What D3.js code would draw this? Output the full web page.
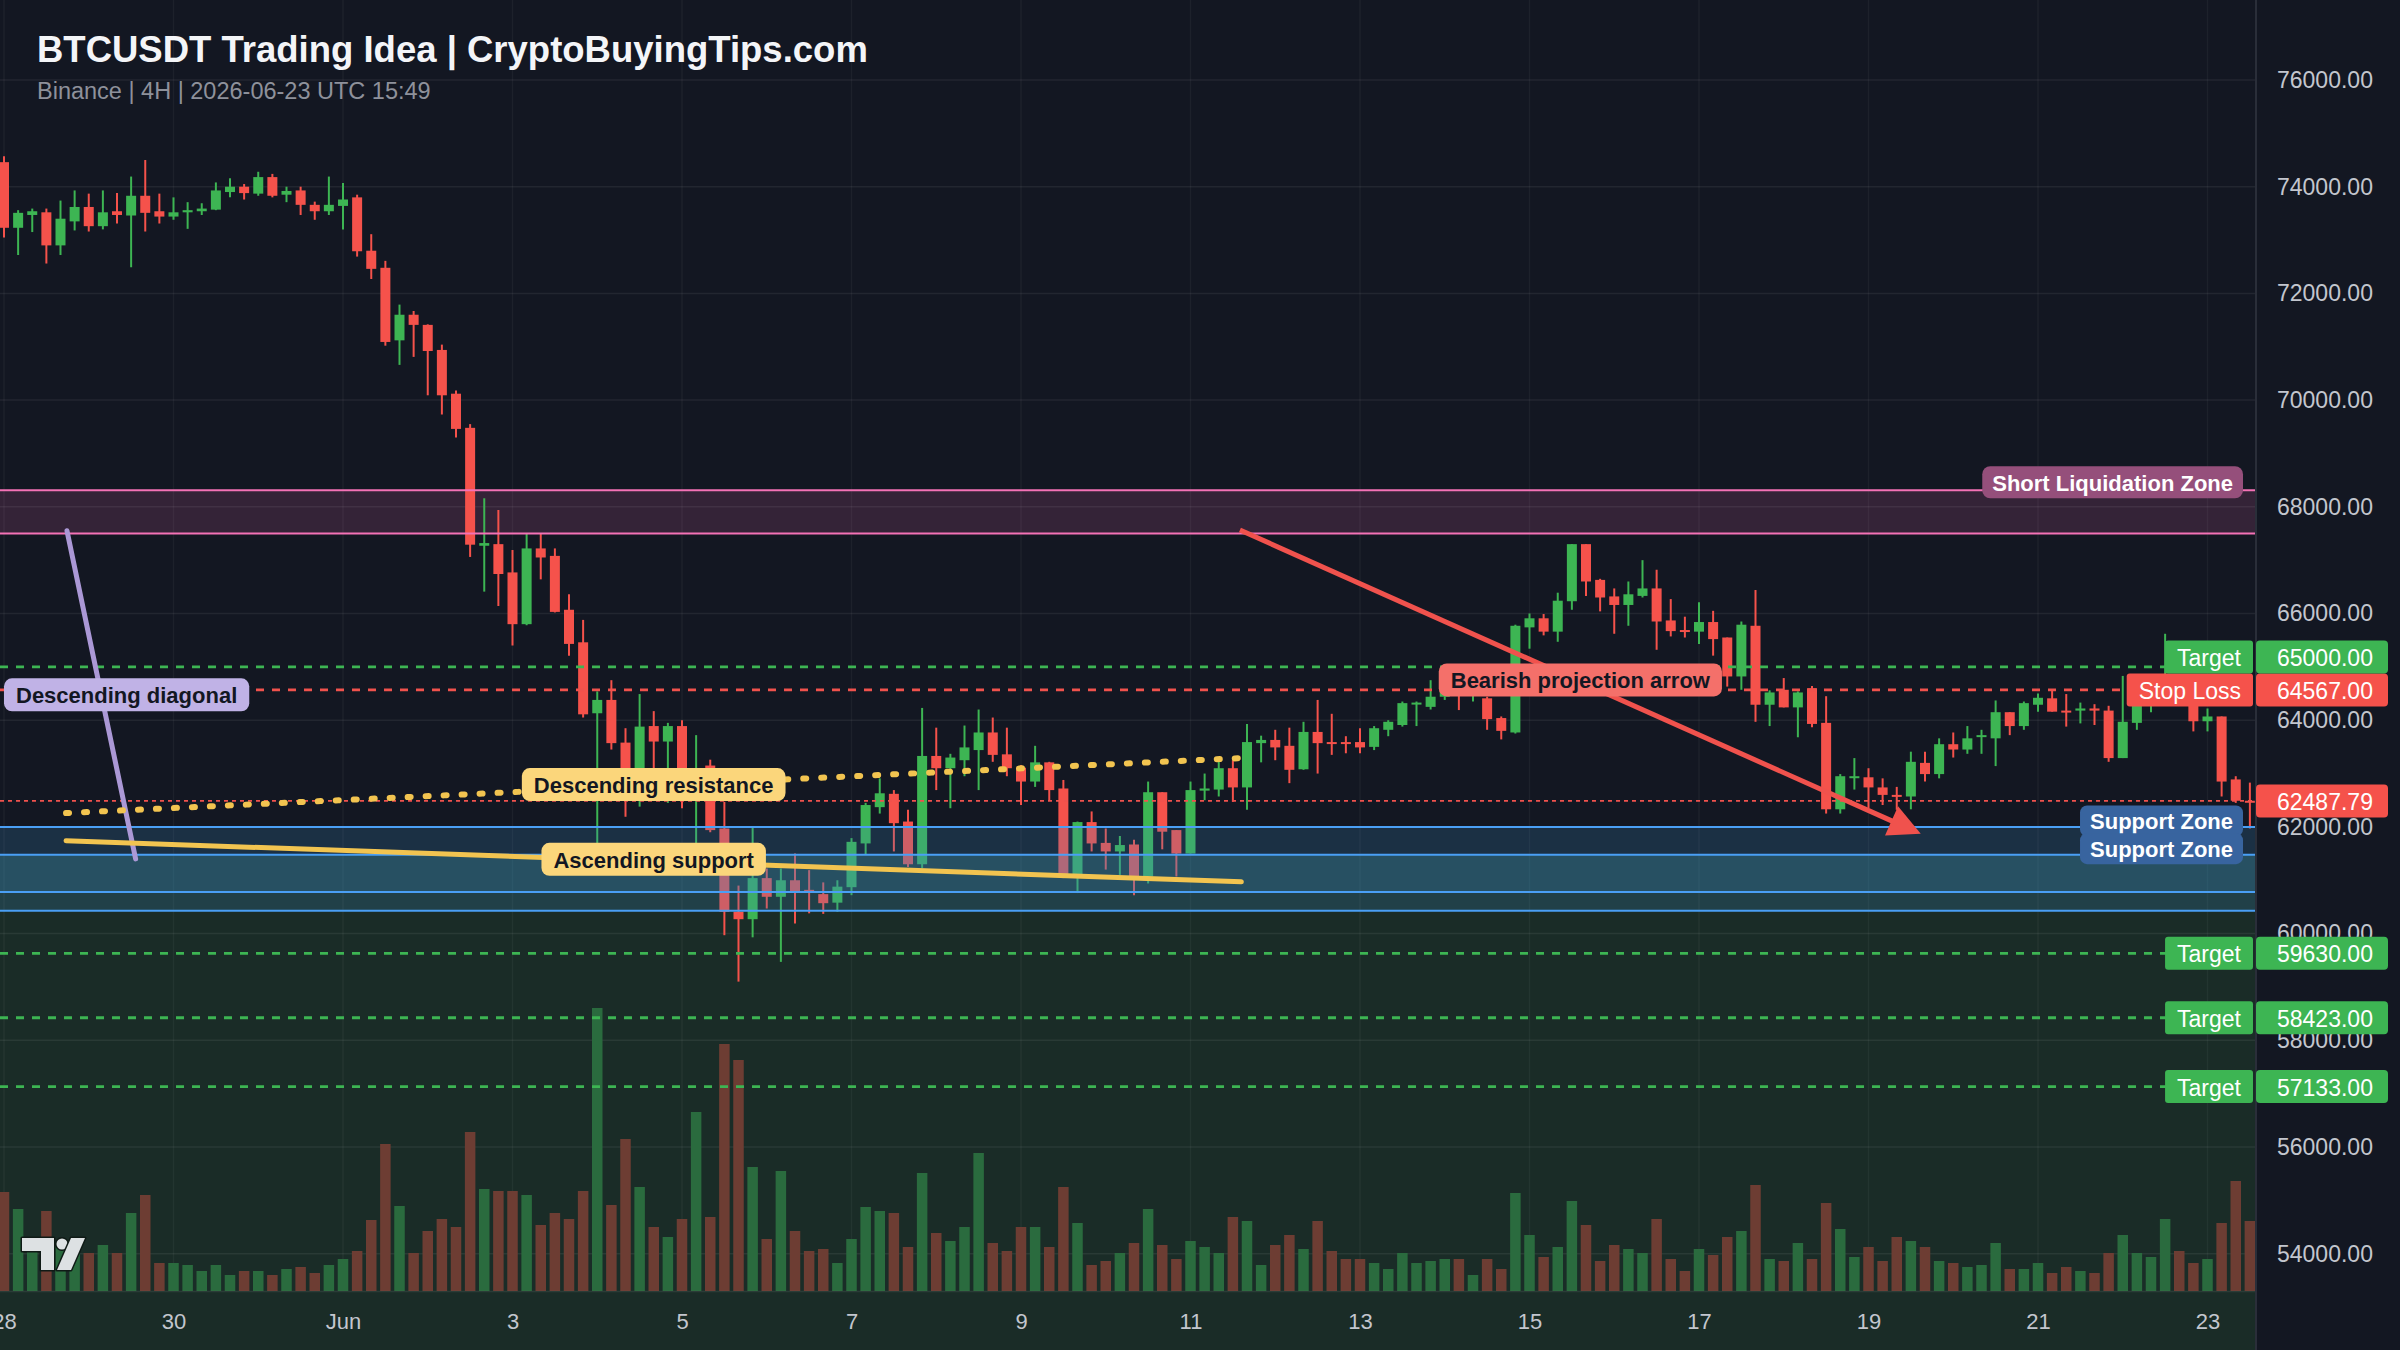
<!DOCTYPE html>
<html><head><meta charset="utf-8">
<script src="https://cdn.jsdelivr.net/npm/d3@7"></script>
<style>
body{margin:0;background:#131722;}
svg{display:block;font-family:"Liberation Sans",Arial,Helvetica,sans-serif;}
</style></head>
<body><svg id="chart" width="2400" height="1350"></svg>
<script>
// ---------------- DATA ----------------
const candleStart = "2026-05-28T00:00:00Z";
const candleHours = 4;
const open = [74460,73230,73470,73520,72900,73350,73620,73260,73540,73460,73830,73540,73440,73520,73540,73570,73900,74000,73870,74180,
73850,73930,73660,73540,73640,73800,72800,72480,71120,71600,71410,70940,70120,69480,67270,67300,66770,65800,67220,67080,
66070,65460,64130,64380,63580,62600,63890,63600,63890,62950,63150,61970,60410,60270,61040,60690,61000,60820,60740,60580,
60870,61690,62370,62620,62100,61300,63330,63100,63250,63440,63770,63360,63110,62850,63210,62720,61070,62090,61700,61540,
61670,61070,62650,61940,61500,62680,62700,63100,62740,63570,63630,63520,63080,63780,63590,63590,63590,63500,63820,63910,
64300,64250,64440,64600,64480,64410,64040,63770,65740,65910,65660,66230,67300,66630,66320,66160,66330,66470,65870,65690,
65660,65840,65550,64820,65770,64290,64570,64240,64600,63950,62330,62920,62930,62740,62600,62570,63200,62990,63550,63450,
63690,63660,64150,63890,64290,64410,64180,64180,64220,64180,63290,63950,64300,64420,64650,64500,63980,64070,62890,62490];
const high = [74570,73560,73590,73590,73740,73930,73870,73930,73880,74190,74500,73870,73800,73710,73690,74080,74160,74050,74280,74240,
74000,74000,73720,74190,74070,73850,73110,72610,71790,71670,71420,71040,70180,69550,68160,67940,67190,67490,67490,67220,
66360,65880,64540,64750,63850,64490,64170,63950,64000,63720,63260,62470,60900,62000,61220,61220,61500,61190,60960,61000,
61790,62450,62910,62690,62320,64230,63860,63370,63900,64200,64050,63860,63160,63520,63220,62880,62100,62290,61970,61830,
61760,62850,62650,61940,62850,63000,63290,63250,63930,63710,63820,63860,63970,64380,64120,63700,63850,63890,64000,64350,
64350,64750,64750,64700,64650,64440,64070,65790,66000,65990,66390,67300,67300,66650,66470,66600,67000,66820,66270,65940,
66210,66050,65550,65850,66440,64560,64790,64540,64640,64450,62990,63290,63100,62910,62750,63410,63410,63660,63770,63890,
63820,64370,64150,64350,64500,64570,64490,64330,64300,64270,64830,64500,64650,65620,64800,64700,64220,64070,62950,62830];
const low = [73050,72720,73150,72560,72720,73180,73160,73200,73310,72490,73160,73310,73380,73210,73470,73560,73800,73760,73830,73800,
73710,73470,73380,73470,73200,72690,72270,71020,70660,70810,70090,69730,69300,67060,66410,66140,65400,65780,66640,66020,
65210,64050,61660,63450,62190,62380,62500,62450,62350,61670,61900,59970,59100,59930,60470,59470,60190,60380,60370,60410,
60720,61490,62250,61540,61250,61230,62690,62350,62950,62690,63220,62950,62410,62750,62500,61040,60760,61540,61200,61100,
60720,60940,61580,61070,61500,62500,62570,62470,62320,63210,63250,62820,63070,63000,63350,63380,63380,63440,63700,63880,
63890,64200,64380,64190,64350,63820,63640,63750,65340,65590,65470,66070,66330,66040,65620,65770,66300,65320,65570,65550,
65430,65210,64630,64570,63970,63890,64240,63680,63870,62250,62250,62700,62350,62410,62320,62330,62850,62910,63300,63370,
63370,63140,63720,63820,64160,64160,63880,63940,63910,63220,63290,63820,64150,64300,64350,63790,63790,62570,62450,61970];
const close = [73230,73510,73540,72900,73400,73620,73260,73520,73470,73830,73510,73440,73520,73560,73590,73930,74000,73880,74180,73830,
73920,73660,73540,73660,73760,72790,72460,71090,71600,71410,70920,70090,69460,67290,67320,66740,65800,67220,67050,66030,
65430,64110,64380,63570,62700,63880,63600,63890,62700,63060,61940,60410,60270,61040,60690,61000,60790,60780,60570,60880,
61720,62410,62630,62070,61300,63330,63100,63300,63490,63770,63350,63100,62850,63210,62690,61070,62090,61690,61540,61660,
61070,62650,61910,61500,62690,62720,63100,62740,63590,63630,63490,63070,63780,63570,63560,63560,63490,63850,63970,64320,
64330,64440,64600,64480,64550,64020,63800,65770,65910,65660,66240,67300,66600,66300,66160,66360,66470,65850,65670,65660,
65840,65520,64820,65790,64290,64520,64240,64520,63930,62330,62950,62950,62740,62600,62570,63220,62990,63550,63450,63660,
63720,64150,63890,64320,64420,64160,64150,64220,64180,63290,63970,64300,64420,64650,64500,63980,64070,62850,62490,62487.79];
const volume = [990,820,400,800,450,420,380,460,380,780,960,280,280,260,200,260,160,200,200,160,
220,240,180,260,320,400,710,1470,850,380,600,720,640,1590,1020,1000,1000,960,660,780,
720,1000,2830,860,1520,1040,640,540,720,1790,740,2470,2310,1240,520,1200,600,400,420,280,
520,840,800,780,440,1180,580,500,640,1380,480,400,640,640,440,1040,680,260,300,380,
480,820,460,320,500,440,380,740,700,260,460,560,420,700,400,320,320,280,220,380,
280,300,320,320,160,320,220,980,560,340,440,900,660,300,460,420,380,720,320,200,
420,360,540,600,1060,320,300,480,320,880,620,340,440,300,540,500,440,300,280,240,
260,480,220,220,280,180,240,200,180,380,560,380,340,720,400,280,320,680,1100,700];

const priceTicks = [54000,56000,58000,60000,62000,64000,66000,68000,70000,72000,74000,76000];
const dateTicks = ["2026-05-28","2026-05-30","2026-06-01","2026-06-03","2026-06-05","2026-06-07","2026-06-09",
                   "2026-06-11","2026-06-13","2026-06-15","2026-06-17","2026-06-19","2026-06-21","2026-06-23"];
const dateTickLabels = ["28","30","Jun","3","5","7","9","11","13","15","17","19","21","23"];

const targetPrices = [65000, 59630, 58423, 57133];
const stopLossPrice = 64567;
const lastPrice = 62487.79;
const liquidationZone = [67500, 68310];
const supportZones = [[60780, 62000], [60430, 61480]];
const profitRegionTop = 61480;

const descDiagonal = [["2026-05-28T17:50:00Z", 67550], ["2026-05-29T13:17:00Z", 61400]];
const descResistance = [["2026-05-28T17:34:00Z", 62260], ["2026-06-11T14:24:00Z", 63290]];
const ascSupport = [["2026-05-28T17:34:00Z", 61740], ["2026-06-11T14:24:00Z", 60970]];
const bearishArrow = [["2026-06-11T14:00:00Z", 67565], ["2026-06-19T14:48:00Z", 61870]];

const titleText = "BTCUSDT Trading Idea | CryptoBuyingTips.com";
const subtitleText = "Binance | 4H | 2026-06-23 UTC 15:49";

// ---------------- SETUP ----------------
const W = 2400, H = 1350, plotRight = 2256, volBase = 1291;
const UP = "#3db553", DOWN = "#f5524b";
const svg = d3.select("#chart");
const t0 = new Date(candleStart).getTime();
const candles = open.map((o, i) => ({
  t: new Date(t0 + i * candleHours * 3600e3), o, h: high[i], l: low[i], c: close[i], v: volume[i]
}));
const x = d3.scaleTime()
  .domain([new Date("2026-05-28T00:00:00Z"), new Date("2026-06-23T00:00:00Z")])
  .range([4, 2207.5]);
const y = d3.scaleLinear().domain([54000, 76000]).range([1253.7, 80]);
const vy = d3.scaleLinear().domain([0, d3.max(volume)]).range([volBase, 1008]);
const P = d => new Date(d);

svg.append("rect").attr("width", W).attr("height", H).attr("fill", "#131722");
const defs = svg.append("defs");
defs.append("clipPath").attr("id", "plotclip").append("rect")
  .attr("x", 0).attr("y", 0).attr("width", plotRight).attr("height", H);
const plot = svg.append("g").attr("clip-path", "url(#plotclip)");

// profit (green) region
plot.append("rect").attr("x", 0).attr("width", plotRight)
  .attr("y", y(profitRegionTop)).attr("height", H - y(profitRegionTop)).attr("fill", "#1a2c27");

// liquidation zone fill
plot.append("rect").attr("x", 0).attr("width", plotRight)
  .attr("y", y(liquidationZone[1])).attr("height", y(liquidationZone[0]) - y(liquidationZone[1]))
  .attr("fill", "rgba(240,105,180,0.15)");

// grid
plot.append("g").selectAll("line").data(priceTicks).join("line")
  .attr("x1", 0).attr("x2", plotRight).attr("y1", d => y(d)).attr("y2", d => y(d))
  .attr("stroke", "rgba(255,255,255,0.065)").attr("stroke-width", 1.5);
plot.append("g").selectAll("line").data(dateTicks).join("line")
  .attr("x1", d => x(P(d + "T00:00:00Z"))).attr("x2", d => x(P(d + "T00:00:00Z")))
  .attr("y1", 0).attr("y2", volBase)
  .attr("stroke", "rgba(255,255,255,0.045)").attr("stroke-width", 1.5);

// volume
plot.append("g").selectAll("rect").data(candles).join("rect")
  .attr("x", d => x(d.t) - 5.25).attr("width", 10.5)
  .attr("y", d => vy(d.v)).attr("height", d => volBase - vy(d.v))
  .attr("fill", d => d.c >= d.o ? "#2a6b3e" : "#6d3d33");
plot.append("line").attr("x1", 0).attr("x2", plotRight).attr("y1", volBase + 0.5).attr("y2", volBase + 0.5)
  .attr("stroke", "rgba(255,255,255,0.08)").attr("stroke-width", 1.5);

// candles
const cg = plot.append("g");
cg.selectAll("line").data(candles).join("line")
  .attr("x1", d => x(d.t)).attr("x2", d => x(d.t))
  .attr("y1", d => y(d.h)).attr("y2", d => y(d.l))
  .attr("stroke", d => d.c >= d.o ? UP : DOWN).attr("stroke-width", 2);
cg.selectAll("rect").data(candles).join("rect")
  .attr("x", d => x(d.t) - 5).attr("width", 10)
  .attr("y", d => y(Math.max(d.o, d.c)))
  .attr("height", d => Math.max(2, Math.abs(y(d.o) - y(d.c))))
  .attr("fill", d => d.c >= d.o ? UP : DOWN);

// support zones (overlay)
supportZones.forEach(z => {
  plot.append("rect").attr("x", 0).attr("width", plotRight)
    .attr("y", y(z[1])).attr("height", y(z[0]) - y(z[1]))
    .attr("fill", "rgba(60,140,200,0.21)");
});
supportZones.forEach(z => {
  z.forEach(p => plot.append("line").attr("x1", 0).attr("x2", plotRight)
    .attr("y1", y(p)).attr("y2", y(p)).attr("stroke", "#4a9ff5").attr("stroke-width", 2));
});
// liquidation lines
liquidationZone.forEach(p => plot.append("line").attr("x1", 0).attr("x2", plotRight)
  .attr("y1", y(p)).attr("y2", y(p)).attr("stroke", "#f472b6").attr("stroke-width", 2));

// level lines
targetPrices.forEach(p => plot.append("line").attr("x1", 0).attr("x2", plotRight)
  .attr("y1", y(p)).attr("y2", y(p)).attr("stroke", "#3db553").attr("stroke-width", 2.8)
  .attr("stroke-dasharray", "8 8"));
plot.append("line").attr("x1", 0).attr("x2", plotRight)
  .attr("y1", y(stopLossPrice)).attr("y2", y(stopLossPrice)).attr("stroke", "#f0524d").attr("stroke-width", 2.8)
  .attr("stroke-dasharray", "8 8");
plot.append("line").attr("x1", 0).attr("x2", plotRight)
  .attr("y1", y(lastPrice)).attr("y2", y(lastPrice)).attr("stroke", "#f0524d").attr("stroke-width", 1.8)
  .attr("stroke-dasharray", "4 4");

// trend lines
const pt = d => [x(P(d[0])), y(d[1])];
const lineGen = d3.line();
plot.append("path").attr("d", lineGen(descDiagonal.map(pt))).attr("stroke", "#ab98d6")
  .attr("stroke-width", 5).attr("stroke-linecap", "round").attr("fill", "none");
plot.append("path").attr("d", lineGen(descResistance.map(pt))).attr("stroke", "#f2c450")
  .attr("stroke-width", 6).attr("stroke-linecap", "round").attr("stroke-dasharray", "3 15").attr("fill", "none");
plot.append("path").attr("d", lineGen(ascSupport.map(pt))).attr("stroke", "#f2c450")
  .attr("stroke-width", 5).attr("stroke-linecap", "round").attr("fill", "none");
// bearish arrow
{
  const a = pt(bearishArrow[0]), b = pt(bearishArrow[1]);
  const ang = Math.atan2(b[1] - a[1], b[0] - a[0]);
  const hl = 32, hw = 16;
  const bx = b[0] - hl * Math.cos(ang), by = b[1] - hl * Math.sin(ang);
  plot.append("path").attr("d", lineGen([a, [bx + 2 * Math.cos(ang), by + 2 * Math.sin(ang)]]))
    .attr("stroke", "#f0524d").attr("stroke-width", 5).attr("fill", "none");
  plot.append("path").attr("d", lineGen([b,
    [bx - hw * Math.sin(ang), by + hw * Math.cos(ang)],
    [bx + hw * Math.sin(ang), by - hw * Math.cos(ang)]]) + "Z").attr("fill", "#f0524d");
}

// labels helper
function label(g, text, cx, cy, opts) {
  const o = Object.assign({ fill: "#fff", color: "#131722", size: 22, weight: "bold", h: 33, pad: 12, anchor: "middle", rx: 8 }, opts || {});
  const grp = g.append("g");
  const r = grp.append("rect");
  const t = grp.append("text").text(text).attr("font-size", o.size).attr("font-weight", o.weight)
    .attr("fill", o.color).attr("text-anchor", "middle").attr("dominant-baseline", "central");
  const w = t.node().getComputedTextLength() + o.pad * 2;
  let left = o.anchor === "middle" ? cx - w / 2 : (o.anchor === "end" ? cx - w : cx);
  if (o.minLeft !== undefined) left = Math.max(o.minLeft, left);
  r.attr("x", left).attr("y", cy - o.h / 2).attr("width", w).attr("height", o.h).attr("rx", o.rx).attr("fill", o.fill);
  t.attr("x", left + w / 2).attr("y", cy + 1);
  return grp;
}
const lab = svg.append("g").attr("clip-path", "url(#plotclip)");
{
  const a = pt(descDiagonal[0]), b = pt(descDiagonal[1]);
  label(lab, "Descending diagonal", (a[0] + b[0]) / 2, (a[1] + b[1]) / 2, { fill: "#c0b2e6", minLeft: 4 });
}
{
  const a = pt(descResistance[0]), b = pt(descResistance[1]);
  label(lab, "Descending resistance", (a[0] + b[0]) / 2, (a[1] + b[1]) / 2 - 1, { fill: "#fbd67b" });
}
{
  const a = pt(ascSupport[0]), b = pt(ascSupport[1]);
  label(lab, "Ascending support", (a[0] + b[0]) / 2, (a[1] + b[1]) / 2 - 2, { fill: "#fbd67b" });
}
{
  const a = pt(bearishArrow[0]), b = pt(bearishArrow[1]);
  label(lab, "Bearish projection arrow", (a[0] + b[0]) / 2, (a[1] + b[1]) / 2 - 2, { fill: "#f4706a" });
}
label(lab, "Short Liquidation Zone", 2243, y(liquidationZone[1]) - 8, { fill: "#954f7b", color: "#ffffff", anchor: "end", h: 32, pad: 10 });
label(lab, "Support Zone", 2243, y(supportZones[0][1]) - 6, { fill: "#38649f", color: "#ffffff", anchor: "end", h: 31, pad: 10, rx: 7 });
label(lab, "Support Zone", 2243, y(supportZones[1][1]) - 6, { fill: "#38649f", color: "#ffffff", anchor: "end", h: 31, pad: 10, rx: 7 });

// tag positions with collision (push upward)
const tags = [
  ...targetPrices.map(p => ({ p, kind: "Target", col: "#3db553" })),
  { p: stopLossPrice, kind: "Stop Loss", col: "#f5524b" }
].sort((a, b) => a.p - b.p);
let prevTop = Infinity;
tags.forEach(tg => {
  let cy = y(tg.p);
  if (cy + 16.5 > prevTop) cy = prevTop - 16.5;
  tg.cy = cy; prevTop = cy - 16.5;
});
tags.forEach(tg => {
  label(lab, tg.kind, 2253, tg.cy, { fill: tg.col, color: "#ffffff", weight: "normal", size: 23, anchor: "end", rx: 3, pad: 12 });
});

// title
svg.append("text").attr("x", 37).attr("y", 62).text(titleText)
  .attr("font-size", 36.5).attr("font-weight", "bold").attr("fill", "#f4f5f8");
svg.append("text").attr("x", 37).attr("y", 99).text(subtitleText)
  .attr("font-size", 23.5).attr("fill", "#8e919b");

// right axis panel
svg.append("rect").attr("x", plotRight).attr("y", 0).attr("width", W - plotRight).attr("height", H).attr("fill", "#131722");
svg.append("line").attr("x1", plotRight).attr("x2", plotRight).attr("y1", 0).attr("y2", H)
  .attr("stroke", "#2a2e39").attr("stroke-width", 2);
const yAxis = svg.append("g").attr("transform", `translate(${plotRight},0)`)
  .call(d3.axisRight(y).tickValues(priceTicks).tickFormat(d3.format(".2f")).tickSize(0).tickPadding(21));
yAxis.select(".domain").remove();
yAxis.selectAll("text").attr("font-size", 23).attr("fill", "#c3c6ce").attr("font-family", "Liberation Sans, Arial, sans-serif");

function axisTag(cy, p, col) {
  svg.append("rect").attr("x", plotRight).attr("y", cy - 16.5).attr("width", 132).attr("height", 33)
    .attr("rx", 4).attr("fill", col);
  svg.append("text").attr("x", 2277).attr("y", cy + 1).attr("dominant-baseline", "central")
    .attr("font-size", 23).attr("fill", "#ffffff").text(d3.format(".2f")(p));
}
tags.forEach(tg => axisTag(tg.cy, tg.p, tg.col));
axisTag(y(lastPrice), lastPrice, "#f5524b");

// x axis
const xAxis = svg.append("g").attr("transform", `translate(0,${volBase})`)
  .call(d3.axisBottom(x).tickValues(dateTicks.map(d => P(d + "T00:00:00Z")))
    .tickFormat((d, i) => dateTickLabels[i]).tickSize(0).tickPadding(22));
xAxis.select(".domain").remove();
xAxis.selectAll("text").attr("font-size", 22).attr("fill", "#c3c6ce").attr("font-family", "Liberation Sans, Arial, sans-serif");

// TradingView-style logo
const logo = svg.append("g").attr("fill", "#dde1e3").attr("stroke", "#0f1a16").attr("stroke-width", 3)
  .attr("paint-order", "stroke").attr("stroke-linejoin", "round");
logo.append("path").attr("d", "M22,1238 H54 V1270 H41 V1251 H22 Z");
logo.append("circle").attr("cx", 62).attr("cy", 1244).attr("r", 5.5);
logo.append("path").attr("d", "M71,1238 H85 L71,1270 H57 Z");
</script></body></html>
